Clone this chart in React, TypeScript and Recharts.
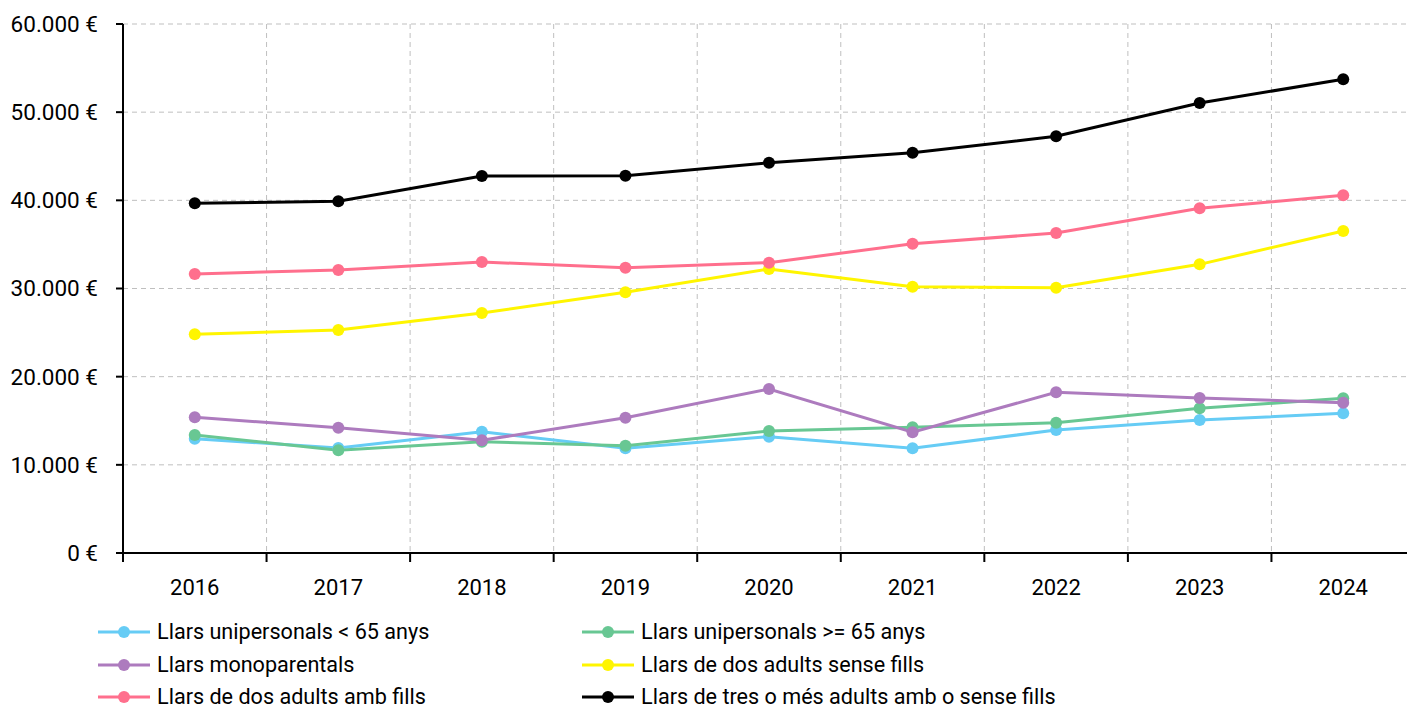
import React from 'react';
import { LineChart, Line, XAxis, YAxis, CartesianGrid } from 'recharts';

// Renda mitjana per tipus de llar (€)
const years = [2016, 2017, 2018, 2019, 2020, 2021, 2022, 2023, 2024];
const unipersonalsMenors65 = [12970, 11910, 13760, 11870, 13190, 11870, 13950, 15080, 15840];
const unipersonalsMajors65 = [13380, 11650, 12630, 12170, 13840, 14250, 14780, 16410, 17550];
const monoparentals = [15390, 14210, 12780, 15350, 18600, 13690, 18230, 17580, 17050];
const dosAdultsSenseFills = [24800, 25290, 27220, 29570, 32210, 30200, 30090, 32740, 36520];
const dosAdultsAmbFills = [31640, 32100, 33000, 32360, 32930, 35080, 36290, 39100, 40570];
const tresOMesAdults = [39660, 39890, 42760, 42800, 44270, 45400, 47260, 51040, 53730];
const yTicks = [0, 10000, 20000, 30000, 40000, 50000, 60000];

const series = [
  { key: 'uni65m', name: 'Llars unipersonals < 65 anys', color: '#66CCF5', values: unipersonalsMenors65 },
  { key: 'uni65p', name: 'Llars unipersonals >= 65 anys', color: '#68C793', values: unipersonalsMajors65 },
  { key: 'mono', name: 'Llars monoparentals', color: '#AD7BBE', values: monoparentals },
  { key: 'dosSense', name: 'Llars de dos adults sense fills', color: '#FFF500', values: dosAdultsSenseFills },
  { key: 'dosAmb', name: 'Llars de dos adults amb fills', color: '#FF6F8D', values: dosAdultsAmbFills },
  { key: 'tres', name: 'Llars de tres o més adults amb o sense fills', color: '#000000', values: tresOMesAdults },
];

const data = years.map((year, i) => {
  const row: any = { year };
  series.forEach((s) => { row[s.key] = s.values[i]; });
  return row;
});

// límits entre categories (per a les marques i la graella vertical)
const bounds = [...years.map((y) => y - 0.5), years[years.length - 1] + 0.5];
const xTicks = [...bounds, ...years].sort((a, b) => a - b);

const FONT = 'Roboto, sans-serif';

const euro = (v: number) => `${String(v).replace(/\B(?=(\d{3})+(?!\d))/g, '.')} €`;

const YearTick = (props: any) => {
  const { x, y, payload } = props;
  if (!Number.isInteger(payload.value)) {
    return <line x1={x} x2={x} y1={y} y2={y + 9} stroke="#000" strokeWidth={2} />;
  }
  return (
    <text x={x} y={y + 42} textAnchor="middle" fill="#000" fontSize={22} fontFamily={FONT}>
      {payload.value}
    </text>
  );
};

const Legend = () => (
  <div
    style={{
      position: 'absolute',
      left: 98,
      top: 616,
      display: 'grid',
      gridTemplateColumns: '484px 600px',
      gridAutoRows: '32.5px',
      fontFamily: FONT,
      fontSize: 21.6,
      lineHeight: '20px',
      color: '#000',
    }}
  >
    {series.map((s) => (
      <div key={s.key} style={{ display: 'flex', alignItems: 'center', whiteSpace: 'nowrap' }}>
        <svg width={52} height={14} style={{ marginRight: 7 }}>
          <line x1={0} x2={52} y1={7} y2={7} stroke={s.color} strokeWidth={3} />
          <circle cx={26} cy={7} r={6} fill={s.color} />
        </svg>
        <span>{s.name}</span>
      </div>
    ))}
  </div>
);

export default function App() {
  return (
    <div
      style={{
        position: 'fixed',
        left: 0,
        top: 0,
        width: 1407,
        height: 708,
        overflow: 'hidden',
        background: '#fff',
      }}
    >
      <LineChart width={1430} height={603} data={data} margin={{ top: 24, right: 15, bottom: 0, left: 0 }}>
        <CartesianGrid stroke="#BFBFBF" strokeDasharray="5 4" verticalValues={bounds} />
        <XAxis
          dataKey="year"
          type="number"
          domain={[bounds[0], bounds[bounds.length - 1]]}
          ticks={xTicks}
          interval={0}
          tick={<YearTick />}
          tickLine={false}
          tickSize={0}
          tickMargin={0}
          height={50}
          axisLine={{ stroke: '#000', strokeWidth: 2 }}
        />
        <YAxis
          domain={[0, 60000]}
          ticks={yTicks}
          tickFormatter={euro}
          width={123}
          tickSize={7}
          tickMargin={18}
          axisLine={{ stroke: '#000', strokeWidth: 2 }}
          tickLine={{ stroke: '#000', strokeWidth: 2 }}
          tick={{ fill: '#000', fontSize: 22.5, fontFamily: FONT }}
        />
        {series.map((s) => (
          <Line
            key={s.key}
            dataKey={s.key}
            name={s.name}
            type="linear"
            stroke={s.color}
            strokeWidth={3}
            dot={{ r: 6, fill: s.color, stroke: s.color, strokeWidth: 0 }}
            activeDot={false}
            isAnimationActive={false}
          />
        ))}
      </LineChart>
      <Legend />
    </div>
  );
}
